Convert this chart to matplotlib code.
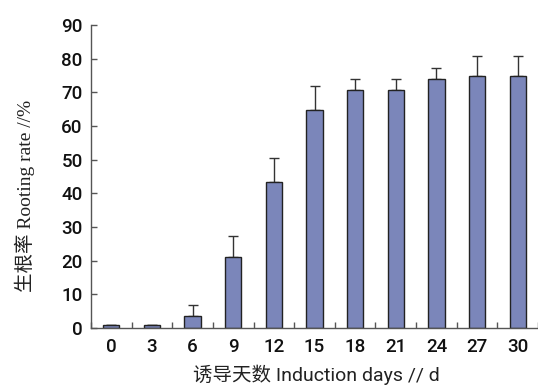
import matplotlib
matplotlib.use("Agg")
import matplotlib.pyplot as plt
import numpy as np

days = ["0", "3", "6", "9", "12", "15", "18", "21", "24", "27", "30"]
rate = [0.8, 0.8, 3.6, 21.1, 43.4, 64.9, 70.6, 70.6, 74.0, 75.0, 75.0]
err_up = [0.0, 0.0, 3.3, 6.3, 7.2, 6.9, 3.4, 3.4, 3.3, 5.8, 5.8]

fig = plt.figure(figsize=(5.38, 3.89), dpi=100)
ax = fig.add_axes([91 / 538, 1 - 328 / 389, 447 / 538, 303 / 389])

x = np.arange(len(days))
ax.bar(x, rate, width=0.4, color="#7b86ba", edgecolor="#222222", linewidth=1.0, zorder=2)
ax.errorbar(x, rate, yerr=[np.zeros(len(rate)), err_up], fmt="none",
            ecolor="#333333", elinewidth=1.0, capsize=3.8, capthick=1.0, zorder=1)

ax.set_xlim(-0.5, len(days) - 0.5)
ax.set_ylim(0, 90)
ax.set_yticks(np.arange(0, 91, 10))
ax.set_xticks(x)
ax.set_xticklabels(days)
ax.set_xticks(np.arange(-0.5, len(days), 1.0), minor=True)

for s in ["top", "right"]:
    ax.spines[s].set_visible(False)
for s in ["left", "bottom"]:
    ax.spines[s].set_color("#555555")
    ax.spines[s].set_linewidth(1.0)

ax.tick_params(axis="y", direction="in", length=4, width=1, color="#555555", pad=6)
ax.tick_params(axis="x", which="major", length=0, pad=7)
ax.tick_params(axis="x", which="minor", direction="in", length=4, width=1, color="#555555")
for lab in ax.get_xticklabels() + ax.get_yticklabels():
    lab.set_fontfamily("Roboto")
    lab.set_fontsize(13.5)
    lab.set_fontweight("medium")
    lab.set_color("#111111")

fig.text(25 / 538, 1 - 196 / 389, "生根率 Rooting rate //%", rotation=90,
         ha="center", va="center", fontsize=14,
         family=["Liberation Serif", "Noto Sans CJK SC"], color="#222222")
fig.text(316 / 538, 1 - 375 / 389, "诱导天数 Induction days // d",
         ha="center", va="center", fontsize=14,
         family=["Roboto", "Noto Sans CJK SC"], color="#222222")

fig.savefig("out.png", dpi=100)
